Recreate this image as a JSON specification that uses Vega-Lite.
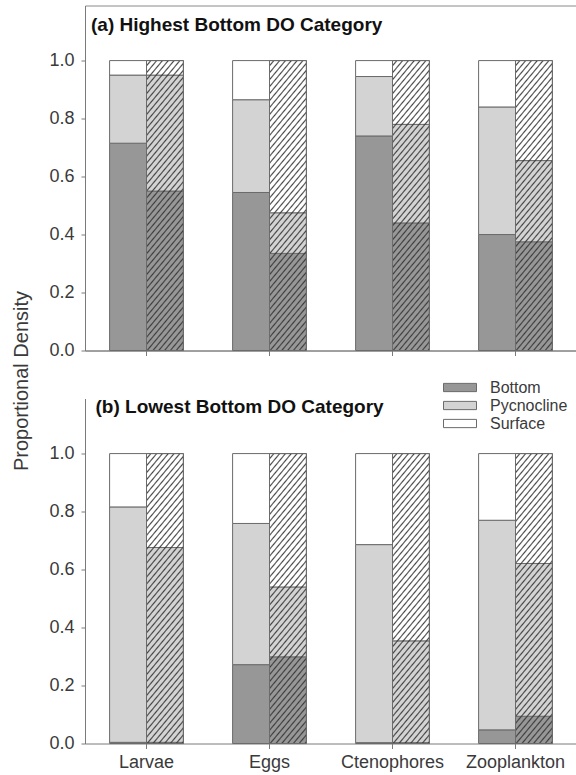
{
  "$schema": "https://vega.github.io/schema/vega-lite/v6.json",
  "autosize": {"type": "pad"},
  "padding": {"left": 10, "top": 4.5, "right": 0, "bottom": 2},
  "background": "white",
  "datasets": {
    "props": [
      {"panel": "a", "taxon": "Larvae", "set": "1", "layer": "Bottom", "value": 0.715},
      {"panel": "a", "taxon": "Larvae", "set": "1", "layer": "Pycnocline", "value": 0.235},
      {"panel": "a", "taxon": "Larvae", "set": "1", "layer": "Surface", "value": 0.05},
      {"panel": "a", "taxon": "Larvae", "set": "2", "layer": "Bottom", "value": 0.55},
      {"panel": "a", "taxon": "Larvae", "set": "2", "layer": "Pycnocline", "value": 0.4},
      {"panel": "a", "taxon": "Larvae", "set": "2", "layer": "Surface", "value": 0.05},
      {"panel": "a", "taxon": "Eggs", "set": "1", "layer": "Bottom", "value": 0.545},
      {"panel": "a", "taxon": "Eggs", "set": "1", "layer": "Pycnocline", "value": 0.32},
      {"panel": "a", "taxon": "Eggs", "set": "1", "layer": "Surface", "value": 0.135},
      {"panel": "a", "taxon": "Eggs", "set": "2", "layer": "Bottom", "value": 0.335},
      {"panel": "a", "taxon": "Eggs", "set": "2", "layer": "Pycnocline", "value": 0.14},
      {"panel": "a", "taxon": "Eggs", "set": "2", "layer": "Surface", "value": 0.525},
      {"panel": "a", "taxon": "Ctenophores", "set": "1", "layer": "Bottom", "value": 0.74},
      {"panel": "a", "taxon": "Ctenophores", "set": "1", "layer": "Pycnocline", "value": 0.205},
      {"panel": "a", "taxon": "Ctenophores", "set": "1", "layer": "Surface", "value": 0.055},
      {"panel": "a", "taxon": "Ctenophores", "set": "2", "layer": "Bottom", "value": 0.44},
      {"panel": "a", "taxon": "Ctenophores", "set": "2", "layer": "Pycnocline", "value": 0.34},
      {"panel": "a", "taxon": "Ctenophores", "set": "2", "layer": "Surface", "value": 0.22},
      {"panel": "a", "taxon": "Zooplankton", "set": "1", "layer": "Bottom", "value": 0.4},
      {"panel": "a", "taxon": "Zooplankton", "set": "1", "layer": "Pycnocline", "value": 0.44},
      {"panel": "a", "taxon": "Zooplankton", "set": "1", "layer": "Surface", "value": 0.16},
      {"panel": "a", "taxon": "Zooplankton", "set": "2", "layer": "Bottom", "value": 0.375},
      {"panel": "a", "taxon": "Zooplankton", "set": "2", "layer": "Pycnocline", "value": 0.28},
      {"panel": "a", "taxon": "Zooplankton", "set": "2", "layer": "Surface", "value": 0.345},
      {"panel": "b", "taxon": "Larvae", "set": "1", "layer": "Bottom", "value": 0.004},
      {"panel": "b", "taxon": "Larvae", "set": "1", "layer": "Pycnocline", "value": 0.812},
      {"panel": "b", "taxon": "Larvae", "set": "1", "layer": "Surface", "value": 0.184},
      {"panel": "b", "taxon": "Larvae", "set": "2", "layer": "Bottom", "value": 0.004},
      {"panel": "b", "taxon": "Larvae", "set": "2", "layer": "Pycnocline", "value": 0.672},
      {"panel": "b", "taxon": "Larvae", "set": "2", "layer": "Surface", "value": 0.324},
      {"panel": "b", "taxon": "Eggs", "set": "1", "layer": "Bottom", "value": 0.272},
      {"panel": "b", "taxon": "Eggs", "set": "1", "layer": "Pycnocline", "value": 0.487},
      {"panel": "b", "taxon": "Eggs", "set": "1", "layer": "Surface", "value": 0.241},
      {"panel": "b", "taxon": "Eggs", "set": "2", "layer": "Bottom", "value": 0.299},
      {"panel": "b", "taxon": "Eggs", "set": "2", "layer": "Pycnocline", "value": 0.241},
      {"panel": "b", "taxon": "Eggs", "set": "2", "layer": "Surface", "value": 0.46},
      {"panel": "b", "taxon": "Ctenophores", "set": "1", "layer": "Bottom", "value": 0.003},
      {"panel": "b", "taxon": "Ctenophores", "set": "1", "layer": "Pycnocline", "value": 0.683},
      {"panel": "b", "taxon": "Ctenophores", "set": "1", "layer": "Surface", "value": 0.314},
      {"panel": "b", "taxon": "Ctenophores", "set": "2", "layer": "Bottom", "value": 0.003},
      {"panel": "b", "taxon": "Ctenophores", "set": "2", "layer": "Pycnocline", "value": 0.351},
      {"panel": "b", "taxon": "Ctenophores", "set": "2", "layer": "Surface", "value": 0.646},
      {"panel": "b", "taxon": "Zooplankton", "set": "1", "layer": "Bottom", "value": 0.047},
      {"panel": "b", "taxon": "Zooplankton", "set": "1", "layer": "Pycnocline", "value": 0.723},
      {"panel": "b", "taxon": "Zooplankton", "set": "1", "layer": "Surface", "value": 0.23},
      {"panel": "b", "taxon": "Zooplankton", "set": "2", "layer": "Bottom", "value": 0.094},
      {"panel": "b", "taxon": "Zooplankton", "set": "2", "layer": "Pycnocline", "value": 0.527},
      {"panel": "b", "taxon": "Zooplankton", "set": "2", "layer": "Surface", "value": 0.379}
    ]
  },
  "data": {"name": "props"},
  "vconcat": [
    {
      "title": {"text": "(a) Highest Bottom DO Category", "anchor": "start", "frame": "group", "orient": "top", "offset": 0, "dx": 6, "dy": 44, "baseline": "alphabetic", "fontSize": 19, "fontWeight": "bold", "font": "Liberation Sans", "color": "#111111"},
      "width": 492,
      "height": 345,
      "transform": [{"filter": "datum.panel === 'a'"}],
      "layer": [
        {
          "mark": {"type": "bar"},
          "encoding": {
            "x": {"field": "taxon", "type": "nominal", "sort": ["Larvae", "Eggs", "Ctenophores", "Zooplankton"], "scale": {"paddingInner": 0.4, "paddingOuter": 0.2}, "axis": {"title": null, "labels": false, "tickSize": 5}},
            "xOffset": {"field": "set", "type": "nominal", "scale": {"paddingInner": 0, "paddingOuter": 0}},
            "y": {"field": "value", "type": "quantitative", "stack": "zero", "scale": {"domain": [0, 1.19], "nice": false},
              "axis": {"values": [0, 0.2, 0.4, 0.6, 0.8, 1.0], "format": ".1f", "title": "Proportional Density", "titleFontSize": 20, "titleFontWeight": "normal", "titleX": -64, "titleY": 375, "titleAngle": 270, "titleAlign": "center", "titleBaseline": "middle"}},
            "fill": {"field": "layer", "type": "nominal", "scale": {"domain": ["Bottom", "Pycnocline", "Surface"], "range": ["#979797", "#d3d3d3", "#ffffff"]},
              "legend": {"title": null, "orient": "none", "legendX": 358, "legendY": 374}},
            "order": {"field": "layer", "type": "nominal", "sort": "ascending"}
          }
        },
        {
          "transform": [{"filter": "datum.set === '2'"}],
          "mark": {
            "type": "bar", "stroke": "#6b6b6b", "strokeWidth": 1,
            "fill": {
              "gradient": "linear", "x1": 0, "y1": 0, "x2": 0.17199, "y2": 1.12643,
              "stops": [
                {"offset": 0, "color": "rgba(50,50,50,0)"},
                {"offset": 0.010417, "color": "rgba(50,50,50,0)"}, {"offset": 0.015625, "color": "rgba(50,50,50,0.9)"}, {"offset": 0.020833, "color": "rgba(50,50,50,0)"},
                {"offset": 0.03125, "color": "rgba(50,50,50,0)"}, {"offset": 0.036458, "color": "rgba(50,50,50,0.9)"}, {"offset": 0.041667, "color": "rgba(50,50,50,0)"},
                {"offset": 0.052083, "color": "rgba(50,50,50,0)"}, {"offset": 0.057292, "color": "rgba(50,50,50,0.9)"}, {"offset": 0.0625, "color": "rgba(50,50,50,0)"},
                {"offset": 0.072917, "color": "rgba(50,50,50,0)"}, {"offset": 0.078125, "color": "rgba(50,50,50,0.9)"}, {"offset": 0.083333, "color": "rgba(50,50,50,0)"},
                {"offset": 0.09375, "color": "rgba(50,50,50,0)"}, {"offset": 0.098958, "color": "rgba(50,50,50,0.9)"}, {"offset": 0.104167, "color": "rgba(50,50,50,0)"},
                {"offset": 0.114583, "color": "rgba(50,50,50,0)"}, {"offset": 0.119792, "color": "rgba(50,50,50,0.9)"}, {"offset": 0.125, "color": "rgba(50,50,50,0)"},
                {"offset": 0.135417, "color": "rgba(50,50,50,0)"}, {"offset": 0.140625, "color": "rgba(50,50,50,0.9)"}, {"offset": 0.145833, "color": "rgba(50,50,50,0)"},
                {"offset": 0.15625, "color": "rgba(50,50,50,0)"}, {"offset": 0.161458, "color": "rgba(50,50,50,0.9)"}, {"offset": 0.166667, "color": "rgba(50,50,50,0)"},
                {"offset": 0.177083, "color": "rgba(50,50,50,0)"}, {"offset": 0.182292, "color": "rgba(50,50,50,0.9)"}, {"offset": 0.1875, "color": "rgba(50,50,50,0)"},
                {"offset": 0.197917, "color": "rgba(50,50,50,0)"}, {"offset": 0.203125, "color": "rgba(50,50,50,0.9)"}, {"offset": 0.208333, "color": "rgba(50,50,50,0)"},
                {"offset": 0.21875, "color": "rgba(50,50,50,0)"}, {"offset": 0.223958, "color": "rgba(50,50,50,0.9)"}, {"offset": 0.229167, "color": "rgba(50,50,50,0)"},
                {"offset": 0.239583, "color": "rgba(50,50,50,0)"}, {"offset": 0.244792, "color": "rgba(50,50,50,0.9)"}, {"offset": 0.25, "color": "rgba(50,50,50,0)"},
                {"offset": 0.260417, "color": "rgba(50,50,50,0)"}, {"offset": 0.265625, "color": "rgba(50,50,50,0.9)"}, {"offset": 0.270833, "color": "rgba(50,50,50,0)"},
                {"offset": 0.28125, "color": "rgba(50,50,50,0)"}, {"offset": 0.286458, "color": "rgba(50,50,50,0.9)"}, {"offset": 0.291667, "color": "rgba(50,50,50,0)"},
                {"offset": 0.302083, "color": "rgba(50,50,50,0)"}, {"offset": 0.307292, "color": "rgba(50,50,50,0.9)"}, {"offset": 0.3125, "color": "rgba(50,50,50,0)"},
                {"offset": 0.322917, "color": "rgba(50,50,50,0)"}, {"offset": 0.328125, "color": "rgba(50,50,50,0.9)"}, {"offset": 0.333333, "color": "rgba(50,50,50,0)"},
                {"offset": 0.34375, "color": "rgba(50,50,50,0)"}, {"offset": 0.348958, "color": "rgba(50,50,50,0.9)"}, {"offset": 0.354167, "color": "rgba(50,50,50,0)"},
                {"offset": 0.364583, "color": "rgba(50,50,50,0)"}, {"offset": 0.369792, "color": "rgba(50,50,50,0.9)"}, {"offset": 0.375, "color": "rgba(50,50,50,0)"},
                {"offset": 0.385417, "color": "rgba(50,50,50,0)"}, {"offset": 0.390625, "color": "rgba(50,50,50,0.9)"}, {"offset": 0.395833, "color": "rgba(50,50,50,0)"},
                {"offset": 0.40625, "color": "rgba(50,50,50,0)"}, {"offset": 0.411458, "color": "rgba(50,50,50,0.9)"}, {"offset": 0.416667, "color": "rgba(50,50,50,0)"},
                {"offset": 0.427083, "color": "rgba(50,50,50,0)"}, {"offset": 0.432292, "color": "rgba(50,50,50,0.9)"}, {"offset": 0.4375, "color": "rgba(50,50,50,0)"},
                {"offset": 0.447917, "color": "rgba(50,50,50,0)"}, {"offset": 0.453125, "color": "rgba(50,50,50,0.9)"}, {"offset": 0.458333, "color": "rgba(50,50,50,0)"},
                {"offset": 0.46875, "color": "rgba(50,50,50,0)"}, {"offset": 0.473958, "color": "rgba(50,50,50,0.9)"}, {"offset": 0.479167, "color": "rgba(50,50,50,0)"},
                {"offset": 0.489583, "color": "rgba(50,50,50,0)"}, {"offset": 0.494792, "color": "rgba(50,50,50,0.9)"}, {"offset": 0.5, "color": "rgba(50,50,50,0)"},
                {"offset": 0.510417, "color": "rgba(50,50,50,0)"}, {"offset": 0.515625, "color": "rgba(50,50,50,0.9)"}, {"offset": 0.520833, "color": "rgba(50,50,50,0)"},
                {"offset": 0.53125, "color": "rgba(50,50,50,0)"}, {"offset": 0.536458, "color": "rgba(50,50,50,0.9)"}, {"offset": 0.541667, "color": "rgba(50,50,50,0)"},
                {"offset": 0.552083, "color": "rgba(50,50,50,0)"}, {"offset": 0.557292, "color": "rgba(50,50,50,0.9)"}, {"offset": 0.5625, "color": "rgba(50,50,50,0)"},
                {"offset": 0.572917, "color": "rgba(50,50,50,0)"}, {"offset": 0.578125, "color": "rgba(50,50,50,0.9)"}, {"offset": 0.583333, "color": "rgba(50,50,50,0)"},
                {"offset": 0.59375, "color": "rgba(50,50,50,0)"}, {"offset": 0.598958, "color": "rgba(50,50,50,0.9)"}, {"offset": 0.604167, "color": "rgba(50,50,50,0)"},
                {"offset": 0.614583, "color": "rgba(50,50,50,0)"}, {"offset": 0.619792, "color": "rgba(50,50,50,0.9)"}, {"offset": 0.625, "color": "rgba(50,50,50,0)"},
                {"offset": 0.635417, "color": "rgba(50,50,50,0)"}, {"offset": 0.640625, "color": "rgba(50,50,50,0.9)"}, {"offset": 0.645833, "color": "rgba(50,50,50,0)"},
                {"offset": 0.65625, "color": "rgba(50,50,50,0)"}, {"offset": 0.661458, "color": "rgba(50,50,50,0.9)"}, {"offset": 0.666667, "color": "rgba(50,50,50,0)"},
                {"offset": 0.677083, "color": "rgba(50,50,50,0)"}, {"offset": 0.682292, "color": "rgba(50,50,50,0.9)"}, {"offset": 0.6875, "color": "rgba(50,50,50,0)"},
                {"offset": 0.697917, "color": "rgba(50,50,50,0)"}, {"offset": 0.703125, "color": "rgba(50,50,50,0.9)"}, {"offset": 0.708333, "color": "rgba(50,50,50,0)"},
                {"offset": 0.71875, "color": "rgba(50,50,50,0)"}, {"offset": 0.723958, "color": "rgba(50,50,50,0.9)"}, {"offset": 0.729167, "color": "rgba(50,50,50,0)"},
                {"offset": 0.739583, "color": "rgba(50,50,50,0)"}, {"offset": 0.744792, "color": "rgba(50,50,50,0.9)"}, {"offset": 0.75, "color": "rgba(50,50,50,0)"},
                {"offset": 0.760417, "color": "rgba(50,50,50,0)"}, {"offset": 0.765625, "color": "rgba(50,50,50,0.9)"}, {"offset": 0.770833, "color": "rgba(50,50,50,0)"},
                {"offset": 0.78125, "color": "rgba(50,50,50,0)"}, {"offset": 0.786458, "color": "rgba(50,50,50,0.9)"}, {"offset": 0.791667, "color": "rgba(50,50,50,0)"},
                {"offset": 0.802083, "color": "rgba(50,50,50,0)"}, {"offset": 0.807292, "color": "rgba(50,50,50,0.9)"}, {"offset": 0.8125, "color": "rgba(50,50,50,0)"},
                {"offset": 0.822917, "color": "rgba(50,50,50,0)"}, {"offset": 0.828125, "color": "rgba(50,50,50,0.9)"}, {"offset": 0.833333, "color": "rgba(50,50,50,0)"},
                {"offset": 0.84375, "color": "rgba(50,50,50,0)"}, {"offset": 0.848958, "color": "rgba(50,50,50,0.9)"}, {"offset": 0.854167, "color": "rgba(50,50,50,0)"},
                {"offset": 0.864583, "color": "rgba(50,50,50,0)"}, {"offset": 0.869792, "color": "rgba(50,50,50,0.9)"}, {"offset": 0.875, "color": "rgba(50,50,50,0)"},
                {"offset": 0.885417, "color": "rgba(50,50,50,0)"}, {"offset": 0.890625, "color": "rgba(50,50,50,0.9)"}, {"offset": 0.895833, "color": "rgba(50,50,50,0)"},
                {"offset": 0.90625, "color": "rgba(50,50,50,0)"}, {"offset": 0.911458, "color": "rgba(50,50,50,0.9)"}, {"offset": 0.916667, "color": "rgba(50,50,50,0)"},
                {"offset": 0.927083, "color": "rgba(50,50,50,0)"}, {"offset": 0.932292, "color": "rgba(50,50,50,0.9)"}, {"offset": 0.9375, "color": "rgba(50,50,50,0)"},
                {"offset": 0.947917, "color": "rgba(50,50,50,0)"}, {"offset": 0.953125, "color": "rgba(50,50,50,0.9)"}, {"offset": 0.958333, "color": "rgba(50,50,50,0)"},
                {"offset": 0.96875, "color": "rgba(50,50,50,0)"}, {"offset": 0.973958, "color": "rgba(50,50,50,0.9)"}, {"offset": 0.979167, "color": "rgba(50,50,50,0)"},
                {"offset": 0.989583, "color": "rgba(50,50,50,0)"}, {"offset": 0.994792, "color": "rgba(50,50,50,0.9)"}, {"offset": 1, "color": "rgba(50,50,50,0)"}
              ]
            }
          },
          "encoding": {
            "x": {"field": "taxon", "type": "nominal", "sort": ["Larvae", "Eggs", "Ctenophores", "Zooplankton"]},
            "xOffset": {"field": "set", "type": "nominal"},
            "y": {"aggregate": "sum", "field": "value", "type": "quantitative", "scale": {"domain": [0, 1.19], "nice": false}}
          }
        }
      ]
    },
    {
      "title": {"text": "(b) Lowest Bottom DO Category", "anchor": "start", "frame": "group", "orient": "top", "offset": 0, "dx": 10.5, "dy": 33.5, "baseline": "alphabetic", "fontSize": 19, "fontWeight": "bold", "font": "Liberation Sans", "color": "#111111"},
      "width": 492,
      "height": 345,
      "view": {"stroke": null},
      "transform": [{"filter": "datum.panel === 'b'"}],
      "layer": [
        {
          "mark": {"type": "bar"},
          "encoding": {
            "x": {"field": "taxon", "type": "nominal", "sort": ["Larvae", "Eggs", "Ctenophores", "Zooplankton"], "scale": {"paddingInner": 0.4, "paddingOuter": 0.2}, "axis": {"title": null, "labelFontSize": 18, "labelAngle": 0, "tickSize": 5, "labelPadding": 5}},
            "xOffset": {"field": "set", "type": "nominal", "scale": {"paddingInner": 0, "paddingOuter": 0}},
            "y": {"field": "value", "type": "quantitative", "stack": "zero", "scale": {"domain": [0, 1.19], "nice": false},
              "axis": {"values": [0, 0.2, 0.4, 0.6, 0.8, 1.0], "format": ".1f", "title": null}},
            "fill": {"field": "layer", "type": "nominal", "scale": {"domain": ["Bottom", "Pycnocline", "Surface"], "range": ["#979797", "#d3d3d3", "#ffffff"]},
              "legend": {"title": null, "orient": "none", "legendX": 358, "legendY": 374}},
            "order": {"field": "layer", "type": "nominal", "sort": "ascending"}
          }
        },
        {
          "transform": [{"filter": "datum.set === '2'"}],
          "mark": {
            "type": "bar", "stroke": "#6b6b6b", "strokeWidth": 1,
            "fill": {
              "gradient": "linear", "x1": 0, "y1": 0, "x2": 0.17199, "y2": 1.12643,
              "stops": [
                {"offset": 0, "color": "rgba(50,50,50,0)"},
                {"offset": 0.010417, "color": "rgba(50,50,50,0)"}, {"offset": 0.015625, "color": "rgba(50,50,50,0.9)"}, {"offset": 0.020833, "color": "rgba(50,50,50,0)"},
                {"offset": 0.03125, "color": "rgba(50,50,50,0)"}, {"offset": 0.036458, "color": "rgba(50,50,50,0.9)"}, {"offset": 0.041667, "color": "rgba(50,50,50,0)"},
                {"offset": 0.052083, "color": "rgba(50,50,50,0)"}, {"offset": 0.057292, "color": "rgba(50,50,50,0.9)"}, {"offset": 0.0625, "color": "rgba(50,50,50,0)"},
                {"offset": 0.072917, "color": "rgba(50,50,50,0)"}, {"offset": 0.078125, "color": "rgba(50,50,50,0.9)"}, {"offset": 0.083333, "color": "rgba(50,50,50,0)"},
                {"offset": 0.09375, "color": "rgba(50,50,50,0)"}, {"offset": 0.098958, "color": "rgba(50,50,50,0.9)"}, {"offset": 0.104167, "color": "rgba(50,50,50,0)"},
                {"offset": 0.114583, "color": "rgba(50,50,50,0)"}, {"offset": 0.119792, "color": "rgba(50,50,50,0.9)"}, {"offset": 0.125, "color": "rgba(50,50,50,0)"},
                {"offset": 0.135417, "color": "rgba(50,50,50,0)"}, {"offset": 0.140625, "color": "rgba(50,50,50,0.9)"}, {"offset": 0.145833, "color": "rgba(50,50,50,0)"},
                {"offset": 0.15625, "color": "rgba(50,50,50,0)"}, {"offset": 0.161458, "color": "rgba(50,50,50,0.9)"}, {"offset": 0.166667, "color": "rgba(50,50,50,0)"},
                {"offset": 0.177083, "color": "rgba(50,50,50,0)"}, {"offset": 0.182292, "color": "rgba(50,50,50,0.9)"}, {"offset": 0.1875, "color": "rgba(50,50,50,0)"},
                {"offset": 0.197917, "color": "rgba(50,50,50,0)"}, {"offset": 0.203125, "color": "rgba(50,50,50,0.9)"}, {"offset": 0.208333, "color": "rgba(50,50,50,0)"},
                {"offset": 0.21875, "color": "rgba(50,50,50,0)"}, {"offset": 0.223958, "color": "rgba(50,50,50,0.9)"}, {"offset": 0.229167, "color": "rgba(50,50,50,0)"},
                {"offset": 0.239583, "color": "rgba(50,50,50,0)"}, {"offset": 0.244792, "color": "rgba(50,50,50,0.9)"}, {"offset": 0.25, "color": "rgba(50,50,50,0)"},
                {"offset": 0.260417, "color": "rgba(50,50,50,0)"}, {"offset": 0.265625, "color": "rgba(50,50,50,0.9)"}, {"offset": 0.270833, "color": "rgba(50,50,50,0)"},
                {"offset": 0.28125, "color": "rgba(50,50,50,0)"}, {"offset": 0.286458, "color": "rgba(50,50,50,0.9)"}, {"offset": 0.291667, "color": "rgba(50,50,50,0)"},
                {"offset": 0.302083, "color": "rgba(50,50,50,0)"}, {"offset": 0.307292, "color": "rgba(50,50,50,0.9)"}, {"offset": 0.3125, "color": "rgba(50,50,50,0)"},
                {"offset": 0.322917, "color": "rgba(50,50,50,0)"}, {"offset": 0.328125, "color": "rgba(50,50,50,0.9)"}, {"offset": 0.333333, "color": "rgba(50,50,50,0)"},
                {"offset": 0.34375, "color": "rgba(50,50,50,0)"}, {"offset": 0.348958, "color": "rgba(50,50,50,0.9)"}, {"offset": 0.354167, "color": "rgba(50,50,50,0)"},
                {"offset": 0.364583, "color": "rgba(50,50,50,0)"}, {"offset": 0.369792, "color": "rgba(50,50,50,0.9)"}, {"offset": 0.375, "color": "rgba(50,50,50,0)"},
                {"offset": 0.385417, "color": "rgba(50,50,50,0)"}, {"offset": 0.390625, "color": "rgba(50,50,50,0.9)"}, {"offset": 0.395833, "color": "rgba(50,50,50,0)"},
                {"offset": 0.40625, "color": "rgba(50,50,50,0)"}, {"offset": 0.411458, "color": "rgba(50,50,50,0.9)"}, {"offset": 0.416667, "color": "rgba(50,50,50,0)"},
                {"offset": 0.427083, "color": "rgba(50,50,50,0)"}, {"offset": 0.432292, "color": "rgba(50,50,50,0.9)"}, {"offset": 0.4375, "color": "rgba(50,50,50,0)"},
                {"offset": 0.447917, "color": "rgba(50,50,50,0)"}, {"offset": 0.453125, "color": "rgba(50,50,50,0.9)"}, {"offset": 0.458333, "color": "rgba(50,50,50,0)"},
                {"offset": 0.46875, "color": "rgba(50,50,50,0)"}, {"offset": 0.473958, "color": "rgba(50,50,50,0.9)"}, {"offset": 0.479167, "color": "rgba(50,50,50,0)"},
                {"offset": 0.489583, "color": "rgba(50,50,50,0)"}, {"offset": 0.494792, "color": "rgba(50,50,50,0.9)"}, {"offset": 0.5, "color": "rgba(50,50,50,0)"},
                {"offset": 0.510417, "color": "rgba(50,50,50,0)"}, {"offset": 0.515625, "color": "rgba(50,50,50,0.9)"}, {"offset": 0.520833, "color": "rgba(50,50,50,0)"},
                {"offset": 0.53125, "color": "rgba(50,50,50,0)"}, {"offset": 0.536458, "color": "rgba(50,50,50,0.9)"}, {"offset": 0.541667, "color": "rgba(50,50,50,0)"},
                {"offset": 0.552083, "color": "rgba(50,50,50,0)"}, {"offset": 0.557292, "color": "rgba(50,50,50,0.9)"}, {"offset": 0.5625, "color": "rgba(50,50,50,0)"},
                {"offset": 0.572917, "color": "rgba(50,50,50,0)"}, {"offset": 0.578125, "color": "rgba(50,50,50,0.9)"}, {"offset": 0.583333, "color": "rgba(50,50,50,0)"},
                {"offset": 0.59375, "color": "rgba(50,50,50,0)"}, {"offset": 0.598958, "color": "rgba(50,50,50,0.9)"}, {"offset": 0.604167, "color": "rgba(50,50,50,0)"},
                {"offset": 0.614583, "color": "rgba(50,50,50,0)"}, {"offset": 0.619792, "color": "rgba(50,50,50,0.9)"}, {"offset": 0.625, "color": "rgba(50,50,50,0)"},
                {"offset": 0.635417, "color": "rgba(50,50,50,0)"}, {"offset": 0.640625, "color": "rgba(50,50,50,0.9)"}, {"offset": 0.645833, "color": "rgba(50,50,50,0)"},
                {"offset": 0.65625, "color": "rgba(50,50,50,0)"}, {"offset": 0.661458, "color": "rgba(50,50,50,0.9)"}, {"offset": 0.666667, "color": "rgba(50,50,50,0)"},
                {"offset": 0.677083, "color": "rgba(50,50,50,0)"}, {"offset": 0.682292, "color": "rgba(50,50,50,0.9)"}, {"offset": 0.6875, "color": "rgba(50,50,50,0)"},
                {"offset": 0.697917, "color": "rgba(50,50,50,0)"}, {"offset": 0.703125, "color": "rgba(50,50,50,0.9)"}, {"offset": 0.708333, "color": "rgba(50,50,50,0)"},
                {"offset": 0.71875, "color": "rgba(50,50,50,0)"}, {"offset": 0.723958, "color": "rgba(50,50,50,0.9)"}, {"offset": 0.729167, "color": "rgba(50,50,50,0)"},
                {"offset": 0.739583, "color": "rgba(50,50,50,0)"}, {"offset": 0.744792, "color": "rgba(50,50,50,0.9)"}, {"offset": 0.75, "color": "rgba(50,50,50,0)"},
                {"offset": 0.760417, "color": "rgba(50,50,50,0)"}, {"offset": 0.765625, "color": "rgba(50,50,50,0.9)"}, {"offset": 0.770833, "color": "rgba(50,50,50,0)"},
                {"offset": 0.78125, "color": "rgba(50,50,50,0)"}, {"offset": 0.786458, "color": "rgba(50,50,50,0.9)"}, {"offset": 0.791667, "color": "rgba(50,50,50,0)"},
                {"offset": 0.802083, "color": "rgba(50,50,50,0)"}, {"offset": 0.807292, "color": "rgba(50,50,50,0.9)"}, {"offset": 0.8125, "color": "rgba(50,50,50,0)"},
                {"offset": 0.822917, "color": "rgba(50,50,50,0)"}, {"offset": 0.828125, "color": "rgba(50,50,50,0.9)"}, {"offset": 0.833333, "color": "rgba(50,50,50,0)"},
                {"offset": 0.84375, "color": "rgba(50,50,50,0)"}, {"offset": 0.848958, "color": "rgba(50,50,50,0.9)"}, {"offset": 0.854167, "color": "rgba(50,50,50,0)"},
                {"offset": 0.864583, "color": "rgba(50,50,50,0)"}, {"offset": 0.869792, "color": "rgba(50,50,50,0.9)"}, {"offset": 0.875, "color": "rgba(50,50,50,0)"},
                {"offset": 0.885417, "color": "rgba(50,50,50,0)"}, {"offset": 0.890625, "color": "rgba(50,50,50,0.9)"}, {"offset": 0.895833, "color": "rgba(50,50,50,0)"},
                {"offset": 0.90625, "color": "rgba(50,50,50,0)"}, {"offset": 0.911458, "color": "rgba(50,50,50,0.9)"}, {"offset": 0.916667, "color": "rgba(50,50,50,0)"},
                {"offset": 0.927083, "color": "rgba(50,50,50,0)"}, {"offset": 0.932292, "color": "rgba(50,50,50,0.9)"}, {"offset": 0.9375, "color": "rgba(50,50,50,0)"},
                {"offset": 0.947917, "color": "rgba(50,50,50,0)"}, {"offset": 0.953125, "color": "rgba(50,50,50,0.9)"}, {"offset": 0.958333, "color": "rgba(50,50,50,0)"},
                {"offset": 0.96875, "color": "rgba(50,50,50,0)"}, {"offset": 0.973958, "color": "rgba(50,50,50,0.9)"}, {"offset": 0.979167, "color": "rgba(50,50,50,0)"},
                {"offset": 0.989583, "color": "rgba(50,50,50,0)"}, {"offset": 0.994792, "color": "rgba(50,50,50,0.9)"}, {"offset": 1, "color": "rgba(50,50,50,0)"}
              ]
            }
          },
          "encoding": {
            "x": {"field": "taxon", "type": "nominal", "sort": ["Larvae", "Eggs", "Ctenophores", "Zooplankton"]},
            "xOffset": {"field": "set", "type": "nominal"},
            "y": {"aggregate": "sum", "field": "value", "type": "quantitative", "scale": {"domain": [0, 1.19], "nice": false},
              "axis": {"orient": "right", "title": null, "labels": false, "ticks": false, "domain": true, "values": []}}
          }
        }
      ],
      "resolve": {"axis": {"y": "independent"}}
    }
  ],
  "spacing": 48,
  "bounds": "flush",
  "resolve": {"scale": {"fill": "shared"}, "legend": {"fill": "shared"}},
  "config": {
    "font": "Liberation Sans",
    "view": {"stroke": "#8a8a8a", "strokeWidth": 1},
    "axis": {"grid": false, "domainColor": "#7a7a7a", "tickColor": "#7a7a7a", "labelColor": "#3a3a3a", "labelFont": "Liberation Sans", "labelFontSize": 18, "tickSize": 4, "labelPadding": 7, "titleColor": "#3a3a3a", "titleFont": "Liberation Sans"},
    "bar": {"stroke": "#6b6b6b", "strokeWidth": 1},
    "legend": {"padding": 0, "symbolType": "M-1,-0.25H1V0.25H-1Z", "symbolSize": 1089, "symbolStrokeColor": "#6b6b6b", "symbolStrokeWidth": 1, "symbolOpacity": 1, "labelFontSize": 16, "labelColor": "#3a3a3a", "labelOffset": 13, "clipHeight": 16, "rowPadding": 2, "labelFont": "Liberation Sans"}
  }
}
